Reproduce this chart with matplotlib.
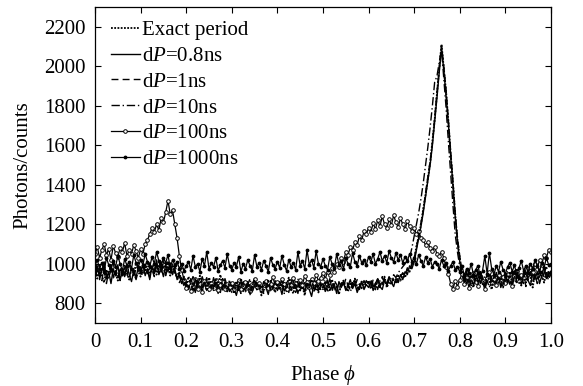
import numpy as np
import matplotlib
matplotlib.use("Agg")
import matplotlib.pyplot as plt

plt.rcParams['font.family'] = ['Liberation Serif', 'DejaVu Serif']
plt.rcParams['mathtext.fontset'] = 'custom'
plt.rcParams['mathtext.rm'] = 'Liberation Serif'
plt.rcParams['mathtext.it'] = 'Liberation Serif:italic'

FS = 15

# ---------------- data ----------------
phase = np.round(np.arange(201) * 0.005, 3)

exact_period = [
    960, 925, 990, 940, 905, 970, 945, 1000, 930, 955, 915, 975, 940, 985, 950, 920, 980, 945, 1005, 960,
    935, 990, 960, 1010, 950, 975, 1000, 945, 990, 960, 1015, 970, 985, 940, 995, 955, 930, 960, 905, 935,
    890, 935, 900, 870, 925, 895, 940, 880, 910, 865, 930, 900, 875, 920, 890, 945, 880, 905, 860, 915,
    880, 850, 905, 870, 925, 885, 860, 900, 845, 890, 915, 870, 895, 840, 905, 880, 920, 865, 890, 855,
    900, 870, 915, 860, 890, 930, 875, 850, 895, 910, 865, 885, 840, 905, 880, 920, 870, 895, 855, 900,
    875, 910, 860, 895, 920, 870, 885, 845, 900, 915, 880, 860, 905, 890, 925, 870, 895, 910, 880, 900,
    915, 880, 900, 870, 925, 890, 905, 935, 880, 910, 895, 920, 900, 940, 915, 950, 930, 970, 960, 1000,
    1020, 1090, 1140, 1200, 1280, 1350, 1430, 1510, 1620, 1730, 1860, 1990, 2110, 1990, 1870, 1720, 1560, 1410, 1250, 1120,
    1030, 960, 935, 900, 950, 915, 880, 940, 905, 960, 925, 890, 945, 910, 870, 935, 955, 900, 925, 880,
    940, 910, 960, 895, 930, 975, 920, 890, 945, 905, 965, 930, 880, 950, 920, 975, 940, 905, 960, 930,
    955]

dp_0p8ns = [
    945, 990, 930, 965, 1010, 925, 960, 900, 975, 940, 995, 920, 960, 935, 1000, 945, 910, 970, 930, 985,
    950, 1000, 940, 975, 920, 990, 960, 1020, 945, 980, 935, 995, 960, 1005, 950, 975, 920, 945, 900, 925,
    905, 870, 925, 890, 855, 915, 880, 935, 900, 865, 910, 875, 930, 890, 850, 905, 870, 925, 885, 860,
    900, 875, 840, 890, 915, 860, 885, 905, 850, 880, 925, 870, 895, 855, 910, 880, 845, 900, 870, 915,
    865, 890, 845, 905, 880, 855, 920, 875, 895, 850, 910, 885, 860, 900, 870, 835, 895, 915, 865, 885,
    900, 860, 885, 925, 870, 895, 850, 910, 880, 905, 865, 890, 920, 875, 900, 855, 885, 910, 870, 895,
    880, 910, 865, 900, 925, 885, 870, 915, 895, 930, 905, 885, 925, 910, 945, 920, 960, 945, 990, 975,
    1010, 1070, 1130, 1190, 1260, 1340, 1420, 1500, 1600, 1720, 1840, 1970, 2090, 1980, 1850, 1710, 1550, 1400, 1240, 1110,
    1010, 950, 920, 965, 905, 940, 890, 925, 960, 900, 935, 870, 915, 950, 895, 930, 905, 945, 880, 920,
    955, 900, 930, 890, 965, 925, 945, 895, 935, 970, 915, 890, 950, 925, 960, 900, 940, 985, 925, 960,
    940]

dp_1ns = [
    975, 935, 960, 915, 990, 950, 925, 970, 1005, 940, 960, 915, 985, 950, 930, 995, 960, 940, 975, 1010,
    965, 940, 985, 950, 1005, 970, 935, 990, 1015, 960, 985, 950, 1010, 975, 945, 990, 960, 935, 915, 890,
    920, 885, 905, 935, 870, 900, 925, 880, 895, 915, 860, 900, 885, 915, 875, 895, 865, 910, 890, 875,
    855, 895, 910, 865, 880, 900, 870, 915, 885, 855, 895, 870, 905, 880, 860, 915, 890, 870, 900, 880,
    885, 910, 870, 895, 860, 905, 880, 915, 855, 890, 875, 905, 860, 895, 915, 880, 850, 905, 885, 870,
    890, 870, 905, 880, 860, 915, 895, 870, 900, 880, 925, 890, 865, 905, 885, 920, 895, 875, 915, 890,
    905, 870, 920, 890, 910, 880, 935, 905, 890, 920, 900, 935, 915, 905, 935, 955, 940, 980, 965, 995,
    1030, 1080, 1150, 1210, 1270, 1360, 1440, 1520, 1610, 1740, 1870, 1990, 2105, 2000, 1880, 1730, 1570, 1420, 1260, 1130,
    1040, 965, 930, 905, 955, 920, 945, 895, 930, 960, 910, 885, 940, 965, 915, 900, 950, 925, 890, 940,
    915, 950, 895, 935, 960, 905, 940, 920, 955, 885, 930, 965, 910, 945, 900, 935, 975, 930, 950, 915,
    960]

dp_10ns = [
    940, 970, 920, 985, 955, 900, 960, 990, 935, 965, 925, 980, 945, 1000, 960, 930, 975, 950, 920, 965,
    985, 945, 1000, 965, 930, 980, 950, 995, 960, 1010, 975, 940, 985, 955, 1000, 960, 935, 905, 930, 900,
    880, 915, 895, 865, 920, 885, 905, 860, 900, 930, 875, 895, 865, 910, 890, 855, 925, 880, 900, 870,
    895, 865, 905, 880, 850, 910, 870, 895, 925, 860, 885, 905, 865, 890, 850, 900, 875, 915, 880, 860,
    905, 875, 895, 850, 910, 885, 865, 900, 875, 925, 860, 890, 905, 870, 895, 880, 920, 860, 890, 905,
    870, 895, 915, 865, 890, 905, 880, 850, 895, 910, 875, 900, 860, 885, 915, 890, 870, 905, 885, 915,
    895, 920, 885, 905, 870, 915, 895, 925, 900, 935, 915, 945, 930, 955, 970, 985, 1000, 1020, 1030, 1080,
    1140, 1200, 1260, 1330, 1410, 1500, 1590, 1690, 1800, 1920, 1950, 2020, 2085, 1940, 1790, 1620, 1460, 1300, 1150, 1060,
    985, 940, 910, 955, 925, 890, 945, 910, 960, 930, 895, 940, 915, 880, 935, 960, 905, 925, 950, 895,
    930, 965, 910, 945, 890, 925, 955, 935, 900, 960, 920, 945, 985, 915, 940, 960, 925, 950, 990, 945,
    965]

dp_100ns = [
    1050, 1085, 1030, 1070, 1100, 1045, 1075, 1020, 1090, 1055, 1035, 1080, 1060, 1105, 1040, 1070, 1050, 1095, 1065, 1030,
    1075, 1050, 1100, 1120, 1150, 1180, 1160, 1200, 1170, 1230, 1210, 1260, 1320, 1250, 1270, 1200, 1130, 1040, 970, 920,
    880, 905, 860, 890, 925, 870, 900, 855, 915, 885, 870, 905, 880, 920, 865, 895, 910, 875, 900, 885,
    905, 875, 895, 920, 870, 890, 910, 880, 860, 900, 925, 885, 905, 870, 895, 915, 880, 900, 935, 890,
    910, 885, 925, 900, 870, 915, 895, 930, 905, 880, 920, 895, 940, 910, 885, 925, 905, 945, 915, 930,
    955, 925, 960, 945, 980, 960, 1000, 985, 1030, 1010, 1060, 1045, 1085, 1070, 1110, 1095, 1140, 1120, 1165, 1150,
    1180, 1160, 1205, 1175, 1220, 1190, 1240, 1200, 1180, 1225, 1195, 1245, 1210, 1185, 1230, 1200, 1175, 1215, 1190, 1165,
    1180, 1150, 1165, 1130, 1120, 1095, 1110, 1080, 1065, 1085, 1050, 1040, 1060, 1030, 985, 950, 900, 870, 915, 885,
    920, 950, 900, 935, 880, 925, 955, 910, 890, 940, 915, 870, 930, 960, 905, 925, 895, 945, 915, 935,
    905, 950, 925, 890, 940, 965, 915, 945, 930, 970, 950, 985, 960, 1000, 975, 1020, 995, 1045, 1030, 1070,
    1060]

dp_1000ns = [
    990, 1020, 975, 1005, 960, 1030, 995, 970, 1015, 985, 1040, 1000, 965, 1025, 990, 1010, 975, 1045, 1005, 985,
    1020, 995, 1050, 1010, 985, 1035, 1000, 1060, 1015, 990, 1030, 1005, 1045, 980, 1020, 995, 1010, 975, 1000, 965,
    990, 1010, 970, 1040, 985, 1000, 960, 1025, 990, 1060, 975, 1005, 985, 1030, 965, 995, 1015, 980, 1050, 990,
    970, 1005, 985, 1035, 960, 1000, 975, 1020, 990, 965, 1045, 985, 1005, 970, 1015, 990, 960, 1030, 995, 975,
    1010, 980, 1040, 995, 965, 1020, 985, 1005, 970, 1060, 990, 1015, 975, 1070, 995, 1020, 980, 1065, 1000, 985,
    1025, 990, 970, 1035, 1000, 980, 1050, 995, 1015, 975, 1030, 1000, 985, 1055, 1010, 990, 1040, 1005, 1020, 995,
    1035, 1010, 1050, 1000, 1025, 1060, 1015, 1040, 1005, 1065, 1030, 1010, 1055, 1020, 1045, 1005, 1035, 1015, 1050, 1010,
    1030, 1000, 1045, 1015, 990, 1035, 1005, 1025, 985, 1010, 1000, 975, 1020, 990, 1005, 965, 990, 1010, 970, 985,
    960, 990, 940, 975, 955, 1000, 945, 970, 990, 935, 965, 1040, 950, 1055, 975, 945, 990, 960, 1010, 970,
    950, 985, 1005, 960, 995, 940, 980, 1015, 965, 990, 955, 1000, 975, 1020, 990, 960, 1005, 980, 1030, 995,
    1000]

series_labels = ["Exact period", "d$P$=0.8ns", "d$P$=1ns", "d$P$=10ns",
                 "d$P$=100ns", "d$P$=1000ns"]
x_ticks = [0.0, 0.1, 0.2, 0.3, 0.4, 0.5, 0.6, 0.7, 0.8, 0.9, 1.0]
x_tick_labels = ["0", "0.1", "0.2", "0.3", "0.4", "0.5", "0.6", "0.7", "0.8", "0.9", "1.0"]
y_ticks = [800, 1000, 1200, 1400, 1600, 1800, 2000, 2200]

# ---------------- plot ----------------
fig = plt.figure(figsize=(5.83, 3.86), dpi=100)
ax = fig.add_axes([0.163, 0.163, 0.782, 0.819])

lw = 1.0
ax.plot(phase, exact_period, color='k', lw=1.3, ls=(0, (1, 0.8)), label=series_labels[0], zorder=3)
ax.plot(phase, dp_0p8ns, color='k', lw=lw, ls='-', label=series_labels[1], zorder=2)
ax.plot(phase, dp_1ns, color='k', lw=lw, ls=(0, (5, 3)), label=series_labels[2], zorder=2)
ax.plot(phase, dp_10ns, color='k', lw=lw, ls=(0, (6, 2, 1, 2)), label=series_labels[3], zorder=2)
ax.plot(phase, dp_100ns, color='k', lw=0.9, ls='-', marker='o', ms=2.6, mfc='white',
        mec='k', mew=0.7, label=series_labels[4], zorder=2)
ax.plot(phase, dp_1000ns, color='k', lw=0.9, ls='-', marker='.', ms=3.5,
        label=series_labels[5], zorder=2)

ax.set_xlim(0, 1)
ax.set_ylim(700, 2300)
ax.set_xticks(x_ticks)
ax.set_xticklabels(x_tick_labels)
ax.set_yticks(y_ticks)
ax.tick_params(direction='in', top=True, right=True, length=4, width=0.8,
               labelsize=FS, pad=7)
for s in ax.spines.values():
    s.set_linewidth(0.9)

ax.set_xlabel("Phase $\\phi$", fontsize=FS, labelpad=8)
ax.set_ylabel("Photons/counts", fontsize=FS, labelpad=8)

leg = ax.legend(loc='upper left', bbox_to_anchor=(0.005, 1.0), frameon=False,
                fontsize=FS, handlelength=1.4, handletextpad=0.1,
                labelspacing=0.3, numpoints=1, borderaxespad=0.25)

fig.savefig("out.png", dpi=100)
